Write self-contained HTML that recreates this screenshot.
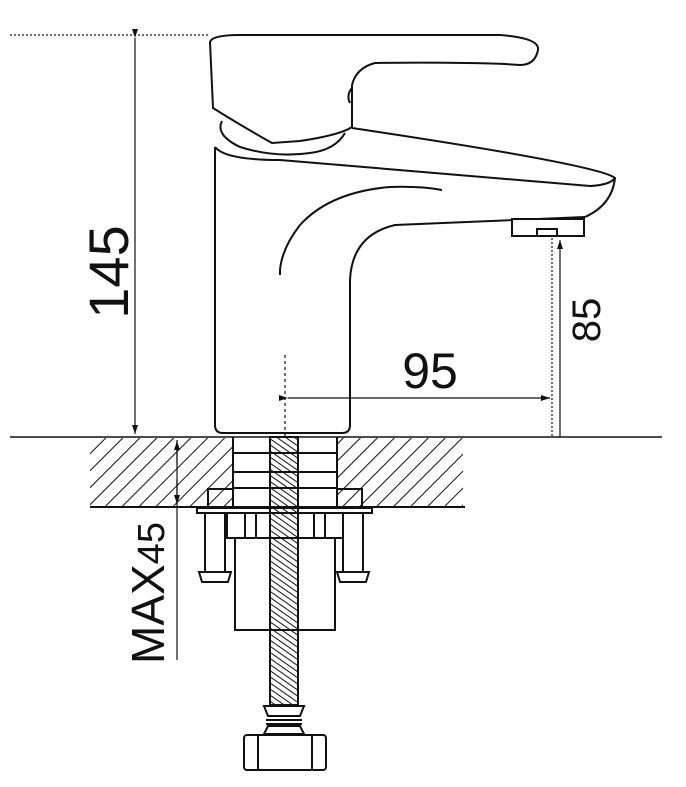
<!DOCTYPE html>
<html><head><style>
html,body{margin:0;padding:0;background:#fff;}
svg{display:block;}
text{font-family:"Liberation Sans",sans-serif;fill:#111;}
</style></head><body>
<svg width="686" height="787" viewBox="0 0 686 787" xmlns="http://www.w3.org/2000/svg">
<defs>
<pattern id="h" width="12" height="12" patternUnits="userSpaceOnUse" patternTransform="rotate(45)">
<line x1="0" y1="0" x2="0" y2="12" stroke="#111" stroke-width="2"/>
</pattern>
<pattern id="t" width="5" height="5" patternUnits="userSpaceOnUse" patternTransform="rotate(-55)">
<line x1="0" y1="0" x2="0" y2="5" stroke="#111" stroke-width="2"/>
</pattern>
<marker id="a" markerWidth="10" markerHeight="10" refX="9" refY="5" orient="auto" markerUnits="userSpaceOnUse">
<path d="M0,2 L9,5 L0,8 Z" fill="#111"/>
</marker>
</defs>
<g fill="none" stroke="#111" stroke-width="2">
<!-- hatched counter -->
<rect x="90" y="438" width="143" height="69" fill="url(#h)" stroke="none"/>
<rect x="337" y="438" width="126" height="69" fill="url(#h)" stroke="none"/>
<line x1="90" y1="507" x2="465" y2="507"/>
<line x1="10" y1="437" x2="662" y2="437" stroke-width="1.5"/>
<line x1="233" y1="437" x2="233" y2="507"/>
<line x1="337" y1="437" x2="337" y2="507"/>
<line x1="233" y1="453" x2="337" y2="453"/>
<line x1="233" y1="472" x2="337" y2="472"/>
<line x1="233" y1="488" x2="337" y2="488"/>
<rect x="208" y="489" width="25" height="18" fill="#fff"/>
<rect x="208" y="489" width="25" height="18" fill="url(#h)"/>
<rect x="337" y="489" width="25" height="18" fill="#fff"/>
<rect x="337" y="489" width="25" height="18" fill="url(#h)"/>
<!-- washer & bracket -->
<rect x="197" y="508" width="175" height="5" fill="#fff"/>
<rect x="205" y="513" width="20" height="59"/>
<rect x="343" y="513" width="20" height="59"/>
<path d="M199,572 L231,572 L228,582 L202,582 Z"/>
<path d="M337,572 L369,572 L366,582 L340,582 Z"/>
<rect x="227" y="513" width="116" height="25"/>
<line x1="245" y1="513" x2="245" y2="538"/><line x1="256" y1="513" x2="256" y2="538"/>
<line x1="314" y1="513" x2="314" y2="538"/><line x1="325" y1="513" x2="325" y2="538"/>
<rect x="235" y="538" width="100" height="92"/>
<!-- rod -->
<rect x="270" y="437" width="28" height="268" fill="url(#t)"/>
<!-- fitting -->
<path d="M264,706 L304,706 L300,716 L268,716 Z"/>
<line x1="266" y1="720" x2="302" y2="720"/>
<line x1="266" y1="724" x2="302" y2="724"/>
<path d="M268,726 L300,726 L304,734 L264,734 Z"/>
<rect x="244" y="735" width="82" height="35" rx="3"/>
<line x1="258" y1="735" x2="258" y2="770"/>
<line x1="312" y1="735" x2="312" y2="770"/>
<!-- faucet body -->
<path d="M215,147 L215,425 Q215,433 223,433 L342,433 Q350,433 350,425 L350,280 Q352,235 395,225 L585,217"/>
<path d="M585,217 Q612,205 615,178 Q600,165 352,128"/>
<path d="M215,147 Q225,160 280,160 L590,186 Q610,185 615,178"/>
<path d="M442,190 Q420,186 390,187 Q330,192 300,225 Q282,248 280,270 L280,275"/>
<rect x="512" y="219" width="72" height="17" fill="#fff"/>
<rect x="537" y="229" width="20" height="7"/>
<!-- lever -->
<path d="M210,42 Q212,35 240,35 L500,35 Q540,38 538,50 Q535,65 520,65 L505,64 Q450,62 375,63 Q356,68 352,85 L352,127 Q340,135 300,141 L272,143 Q240,125 213,108 Z" fill="#fff"/>
<path d="M352,88 Q346,95 350,103"/>
<path d="M222,121 Q215,135 240,147 Q275,158 310,153 Q335,150 345,133"/>
<!-- dimensions -->
<line x1="10" y1="35" x2="210" y2="35" stroke-dasharray="2,2" stroke-width="1.2"/>
<line x1="135" y1="38" x2="135" y2="434" stroke-width="1.2" marker-start="url(#a)" marker-end="url(#a)"/>
<line x1="285" y1="355" x2="285" y2="437" stroke-dasharray="3,3" stroke-width="1.2"/>
<line x1="288" y1="398" x2="550" y2="398" stroke-width="1.2" marker-start="url(#a)" marker-end="url(#a)"/>
<line x1="552" y1="238" x2="552" y2="437" stroke-dasharray="2,2" stroke-width="1.2"/>
<line x1="560" y1="437" x2="560" y2="240" stroke-width="1.2" marker-end="url(#a)"/>
<line x1="177" y1="440" x2="177" y2="660" stroke-width="1.2"/>
<line x1="177" y1="465" x2="177" y2="441" stroke-width="1.2" marker-end="url(#a)"/>
<line x1="177" y1="480" x2="177" y2="504" stroke-width="1.2" marker-end="url(#a)"/>
</g>
<text x="0" y="0" font-size="56" transform="translate(128,272) rotate(-90)" text-anchor="middle">145</text>
<text x="430" y="388" font-size="50" text-anchor="middle">95</text>
<text x="0" y="0" font-size="40" transform="translate(600,320) rotate(-90)" text-anchor="middle">85</text>
<text x="0" y="0" font-size="46" transform="translate(164,664) rotate(-90)">MAX<tspan font-size="38">45</tspan></text>
</svg>
</body></html>
